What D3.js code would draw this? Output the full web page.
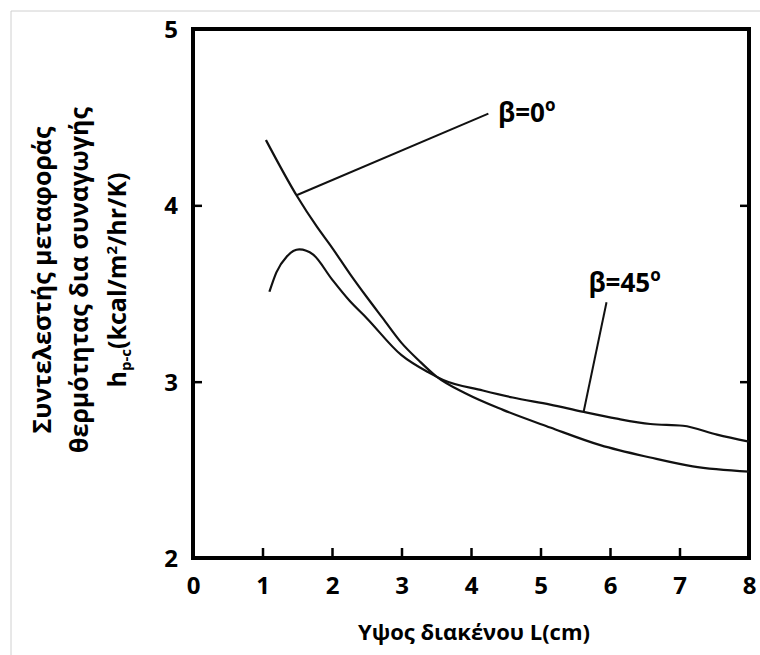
<!DOCTYPE html>
<html>
<head>
<meta charset="utf-8">
<script src="https://cdn.jsdelivr.net/npm/d3@7"></script>
<style>
  body { margin: 0; background: #fff; }
  svg { display: block; }
  text { font-family: "Open Sans", "Noto Sans", sans-serif; font-weight: 700; fill: #000; }
</style>
</head>
<body>
<svg id="chart" width="760" height="655"></svg>
<script>
// Gap height L (cm) and convective heat-transfer coefficient h_p-c
const beta0X   = [1.05, 1.5, 1.78, 2.0, 2.26, 2.5, 2.73, 3.0, 3.25, 3.5, 3.94, 4.46, 5.14, 5.86, 6.58, 7.19, 8.0];
const beta0Y   = [4.37, 4.05, 3.88, 3.76, 3.61, 3.48, 3.36, 3.22, 3.12, 3.03, 2.93, 2.84, 2.74, 2.64, 2.57, 2.52, 2.49];
const beta45X  = [1.1, 1.2, 1.35, 1.53, 1.73, 2.0, 2.25, 2.5, 3.0, 3.4, 3.6, 4.17, 4.6, 5.14, 5.6, 6.1, 6.58, 7.05, 7.54, 8.0];
const beta45Y  = [3.51, 3.62, 3.71, 3.75, 3.72, 3.58, 3.46, 3.36, 3.15, 3.05, 3.01, 2.95, 2.91, 2.87, 2.83, 2.79, 2.76, 2.75, 2.70, 2.66];
const xTicks   = [0, 1, 2, 3, 4, 5, 6, 7, 8];
const yTicks   = [2, 3, 4, 5];
const seriesNames = ["β=0", "β=45"];
// Where each leader line meets its curve, where it starts, and where its label sits
const leaderAtX   = [1.49, 5.62];
const leaderStart = [[4.25, 4.52], [5.95, 3.45]];
const labelAt     = [[4.39, 4.47], [5.69, 3.51]];

const svg = d3.select("#chart");
const x = d3.scaleLinear().domain([0, 8]).range([193, 749]);
const y = d3.scaleLinear().domain([2, 5]).range([558, 29]);

// thin outer border of the figure
svg.append("path").attr("d", "M11,655 V11 H760")
  .attr("fill", "none").attr("stroke", "#d0d0d0").attr("stroke-width", 1);

// axes with inward ticks
const gx = svg.append("g").attr("transform", `translate(0,${y(2)})`)
  .call(d3.axisBottom(x).tickValues(xTicks).tickFormat(d3.format("d")).tickSize(-10).tickPadding(19));
const gy = svg.append("g").attr("transform", `translate(${x(0)},0)`)
  .call(d3.axisLeft(y).tickValues(yTicks).tickFormat(d3.format("d")).tickSize(-9).tickPadding(15));
const gr = svg.append("g").attr("transform", `translate(${x(8)},0)`)
  .call(d3.axisRight(y).tickValues([3, 4]).tickFormat("").tickSize(-9));
[gx, gy, gr].forEach(g => {
  g.select(".domain").remove();
  g.selectAll(".tick line").attr("stroke", "#000").attr("stroke-width", 2.5);
  g.selectAll(".tick text").attr("font-size", 24).attr("font-weight", 700)
    .attr("font-family", "'Open Sans', sans-serif").attr("fill", "#000");
});
gy.selectAll(".tick text").attr("dy", "0.35em");

// plot frame
svg.append("rect")
  .attr("x", x(0)).attr("y", y(5))
  .attr("width", x(8) - x(0)).attr("height", y(2) - y(5))
  .attr("fill", "none").attr("stroke", "#000").attr("stroke-width", 4);

// curves
const line = d3.line().x(d => x(d[0])).y(d => y(d[1])).curve(d3.curveMonotoneX);
const s0 = d3.zip(beta0X, beta0Y);
const s45 = d3.zip(beta45X, beta45Y);
[s0, s45].forEach(s => {
  svg.append("path").datum(s).attr("d", line)
    .attr("fill", "none").attr("stroke", "#111").attr("stroke-width", 2.2);
});

// leader lines and labels
const interp = (xs, ys, v) => {
  const i = d3.bisectLeft(xs, v);
  const t = (v - xs[i - 1]) / (xs[i] - xs[i - 1]);
  return ys[i - 1] + t * (ys[i] - ys[i - 1]);
};
[[beta0X, beta0Y], [beta45X, beta45Y]].forEach(([xs, ys], i) => {
  const lx = leaderAtX[i], ly = interp(xs, ys, lx);
  svg.append("line")
    .attr("x1", x(leaderStart[i][0])).attr("y1", y(leaderStart[i][1]))
    .attr("x2", x(lx)).attr("y2", y(ly))
    .attr("stroke", "#111").attr("stroke-width", 2);
  const t = svg.append("text")
    .attr("x", x(labelAt[i][0])).attr("y", y(labelAt[i][1]))
    .attr("font-size", 26);
  t.append("tspan").text(seriesNames[i]);
  t.append("tspan").attr("font-size", 17).attr("dy", -11).text("o");
});

// axis titles
svg.append("text")
  .attr("x", 474).attr("y", 640).attr("text-anchor", "middle")
  .attr("font-size", 22).attr("font-weight", 600)
  .text("Υψος διακένου L(cm)");

const yTitle = svg.append("g").attr("transform", "translate(80,280) rotate(-90)");
yTitle.append("text").attr("x", 0).attr("y", -29).attr("text-anchor", "middle")
  .attr("font-size", 25).text("Συντελεστής μεταφοράς");
yTitle.append("text").attr("x", 0).attr("y", 8).attr("text-anchor", "middle")
  .attr("font-size", 25).text("θερμότητας δια συναγωγής");
const l3 = yTitle.append("text").attr("x", 0).attr("y", 46).attr("text-anchor", "middle")
  .attr("font-size", 25);
l3.append("tspan").text("h");
l3.append("tspan").attr("font-size", 15).attr("dy", 5).text("p-c");
l3.append("tspan").attr("dy", -5).text("(kcal/m");
l3.append("tspan").attr("font-size", 15).attr("dy", -9).text("2");
l3.append("tspan").attr("dy", 9).text("/hr/K)");
</script>
</body>
</html>
